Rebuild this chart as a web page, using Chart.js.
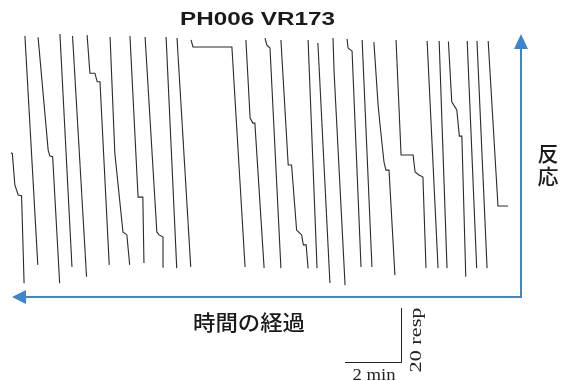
<!DOCTYPE html>
<html>
<head>
<meta charset="utf-8">
<script src="https://cdn.jsdelivr.net/npm/chart.js@4/dist/chart.umd.min.js"></script>
<style>
  html, body { margin: 0; padding: 0; background: #fff; }
  canvas { display: block; }
</style>
</head>
<body>
<canvas id="c" width="568" height="381"></canvas>
<script>
// Cumulative record, PH006 VR173. Time in minutes (runs right-to-left), cumulative responses (pen resets).
const title = "PH006 VR173";
const xAxisLabel = "時間の経過";
const yAxisLabel = "反応";
const scaleBarMinutes = 2;
const scaleBarResponses = 20;
const scaleBarTimeLabel = "2 min";
const scaleBarRespLabel = "20 resp";

// Segment times (min) and counts (responses), one pair of arrays per pen excursion
const segTimes = [
  [0, 0.36, 0.71],
  [0.75, 1.11],
  [1.12, 1.46],
  [1.51, 1.65, 1.74, 1.83, 2.01, 2.13],
  [2.18, 2.46],
  [2.50, 2.89],
  [2.93, 3.04, 3.18, 3.32, 3.39, 3.82, 4.00],
  [4.04, 4.25, 4.36, 4.43, 4.57, 4.64, 4.79],
  [4.86, 5.21],
  [5.25, 5.57, 5.71, 5.75],
  [5.82, 6.21, 6.25],
  [6.36, 6.79],
  [6.82, 7.14],
  [7.14, 7.21, 7.31, 7.37, 7.49, 7.55, 7.73, 7.85, 8.11],
  [8.11, 8.50, 8.61, 8.68],
  [8.71, 9.04, 9.11, 9.21, 9.36],
  [9.39, 9.86, 11.25, 11.32],
  [11.33, 11.82],
  [11.83, 12.21],
  [12.29, 12.32, 12.46, 12.54, 12.96],
  [13.00, 13.04, 13.21, 13.50],
  [13.51, 13.61, 13.75, 14.04, 14.21],
  [14.24, 14.57, 14.67, 14.75, 14.93, 15.03],
  [15.05, 15.55],
  [15.57, 16.00],
  [16.01, 16.26, 16.36, 16.42, 16.78],
  [16.79, 17.25],
  [17.28, 17.37, 17.49, 17.61, 17.70, 17.75]
];
const segCounts = [
  [23.7, 23.7, 84.8],
  [0.7, 84.8],
  [0.7, 84.8],
  [-2.5, 49.6, 49.6, 59.3, 62.3, 84.6],
  [0.7, 84.8],
  [0.7, 84.8],
  [0.7, 34.4, 35.2, 36.3, 42.6, 42.6, 85.2],
  [-1.9, 37.0, 37.0, 40.0, 53.7, 61.1, 84.4],
  [1.1, 85.2],
  [1.1, 81.1, 82.2, 85.6],
  [-5.6, 73.0, 85.9],
  [-4.8, 84.1],
  [0.7, 85.2],
  [0.6, 9.3, 9.3, 13.0, 14.2, 14.8, 38.9, 38.9, 85.2],
  [0.7, 82.2, 83.3, 85.9],
  [0.7, 54.4, 54.4, 56.3, 85.2],
  [1.1, 82.6, 82.6, 85.2],
  [1.1, 85.9],
  [0.7, 86.3],
  [1.1, 12.2, 13.0, 14.1, 86.3],
  [2.6, 27.0, 27.0, 86.7],
  [1.9, 13.0, 14.1, 43.3, 86.3],
  [1.9, 69.7, 69.7, 72.9, 72.9, 87.0],
  [-2.5, 86.7],
  [1.1, 87.4],
  [-4.9, 42.0, 42.2, 44.4, 86.2],
  [1.9, 86.7],
  [-4.9, 27.5, 27.8, 31.5, 43.2, 43.4]
];

const datasets = segTimes.map((ts, i) => ({
  data: ts.map((t, j) => ({ x: t, y: segCounts[i][j] })),
  borderColor: '#2a2a2a',
  borderWidth: 1.1,
  pointRadius: 0,
  tension: 0,
  fill: false
}));

const BLUE = '#3b86cc';

function stretchedText(ctx, text, cx, cy, font, targetW, align) {
  ctx.save();
  ctx.font = font;
  const w = ctx.measureText(text).width;
  const sx = targetW / w;
  ctx.translate(cx, cy);
  ctx.scale(sx, 1);
  ctx.textAlign = 'center';
  ctx.textBaseline = align || 'alphabetic';
  ctx.fillText(text, 0, 0);
  ctx.restore();
}

const decor = {
  id: 'decor',
  beforeDraw(chart) {
    const ctx = chart.ctx;
    ctx.save();
    ctx.fillStyle = '#fff';
    ctx.fillRect(0, 0, chart.width, chart.height);
    ctx.restore();
  },
  afterDraw(chart) {
    const ctx = chart.ctx;
    const xs = chart.scales.x, ys = chart.scales.y;
    ctx.save();
    // title
    ctx.fillStyle = '#1a1a1a';
    stretchedText(ctx, title, 257.5, 25, 'bold 18.5px "Liberation Sans", Arial, sans-serif', 155);

    // axes arrows
    ctx.strokeStyle = BLUE; ctx.fillStyle = BLUE; ctx.lineWidth = 2;
    const cornerX = 521, cornerY = 297;
    ctx.beginPath();
    ctx.moveTo(cornerX, cornerY); ctx.lineTo(22, cornerY);
    ctx.moveTo(cornerX, cornerY + 1); ctx.lineTo(cornerX, 46);
    ctx.stroke();
    ctx.beginPath();
    ctx.moveTo(12, cornerY); ctx.lineTo(26, cornerY - 7); ctx.lineTo(26, cornerY + 7); ctx.closePath(); ctx.fill();
    ctx.beginPath();
    ctx.moveTo(cornerX, 34); ctx.lineTo(cornerX - 7, 49); ctx.lineTo(cornerX + 7, 49); ctx.closePath(); ctx.fill();

    // axis labels
    ctx.fillStyle = '#1a1a1a';
    stretchedText(ctx, xAxisLabel, 249, 322, '500 21px "Noto Sans CJK JP", sans-serif', 112, 'middle');
    ctx.font = '500 21px "Noto Sans CJK JP", sans-serif';
    ctx.textAlign = 'center'; ctx.textBaseline = 'middle';
    const chars = Array.from(yAxisLabel);
    chars.forEach((ch, i) => ctx.fillText(ch, 548, 153 + i * 23));

    // scale bar (lengths from the chart scales)
    const barW = Math.abs(xs.getPixelForValue(0) - xs.getPixelForValue(scaleBarMinutes));
    const barH = Math.abs(ys.getPixelForValue(0) - ys.getPixelForValue(scaleBarResponses));
    const bx = 401, by = 362;
    ctx.strokeStyle = '#222'; ctx.lineWidth = 1;
    ctx.beginPath();
    ctx.moveTo(bx - barW, by + 0.5); ctx.lineTo(bx + 0.5, by + 0.5); ctx.lineTo(bx + 0.5, by - barH);
    ctx.stroke();
    ctx.fillStyle = '#222';
    stretchedText(ctx, scaleBarTimeLabel, 374, 380, '16px "Liberation Serif", "DejaVu Serif", serif', 43);
    ctx.save();
    ctx.translate(421, 340);
    ctx.rotate(-Math.PI / 2);
    stretchedText(ctx, scaleBarRespLabel, 0, 0, '16px "Liberation Serif", "DejaVu Serif", serif', 65);
    ctx.restore();
    ctx.restore();
  }
};

new Chart(document.getElementById('c'), {
  type: 'line',
  data: { datasets },
  options: {
    responsive: false,
    animation: false,
    devicePixelRatio: 1,
    layout: { padding: 0 },
    plugins: { legend: { display: false }, tooltip: { enabled: false }, title: { display: false } },
    scales: {
      x: { type: 'linear', reverse: true, min: -2.14, max: 18.14, display: false },
      y: { type: 'linear', min: -41.1, max: 100, display: false }
    }
  },
  plugins: [decor]
});
</script>
</body>
</html>
